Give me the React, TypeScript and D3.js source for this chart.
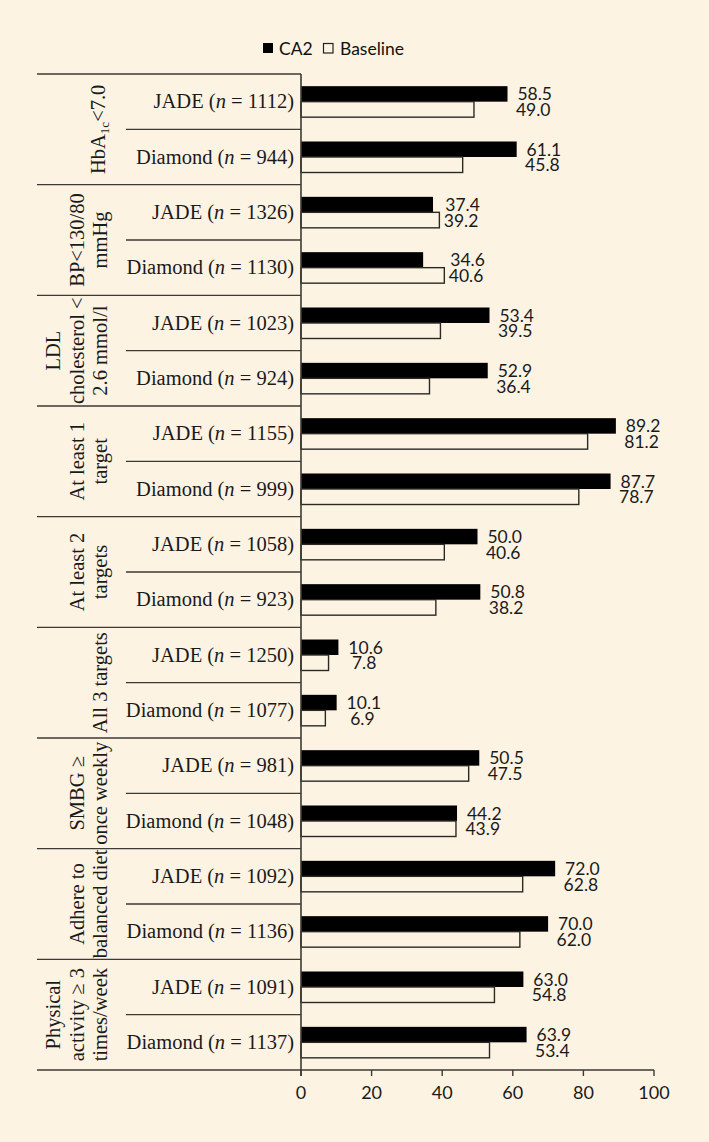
import React from "react";
import * as d3 from "d3";

const groupLabels: string[][] = [
  ["HbA1c<7.0"],
  ["BP<130/80", "mmHg"],
  ["LDL", "cholesterol <", "2.6 mmol/l"],
  ["At least 1", "target"],
  ["At least 2", "targets"],
  ["All 3 targets"],
  ["SMBG ≥", "once weekly"],
  ["Adhere to", "balanced diet"],
  ["Physical", "activity ≥ 3", "times/week"],
];
const cohorts = ["JADE", "Diamond"];
const sampleSizes: number[] = [
  1112, 944, 1326, 1130, 1023, 924, 1155, 999, 1058, 923, 1250, 1077, 981, 1048, 1092, 1136, 1091, 1137,
];
const ca2Values: number[] = [
  58.5, 61.1, 37.4, 34.6, 53.4, 52.9, 89.2, 87.7, 50.0, 50.8, 10.6, 10.1, 50.5, 44.2, 72.0, 70.0, 63.0, 63.9,
];
const baselineValues: number[] = [
  49.0, 45.8, 39.2, 40.6, 39.5, 36.4, 81.2, 78.7, 40.6, 38.2, 7.8, 6.9, 47.5, 43.9, 62.8, 62.0, 54.8, 53.4,
];
const xTicks: number[] = [0, 20, 40, 60, 80, 100];
const seriesNames = ["CA2", "Baseline"];

const W = 709;
const H = 1142;
const BG = "#fdf3e3";
const INK = "#3b3a33";
const SERIF = "'Liberation Serif', 'Times New Roman', serif";
const SANS = "Lato, 'Open Sans', sans-serif";

function estWidth(s: string, fs: number): number {
  let w = 0;
  for (const ch of s) w += ch === "." ? 0.23 : 0.58;
  return w * fs;
}

export default function App() {
  const left = 37;
  const innerLeft = 126;
  const axisX0 = 301;
  const axisX1 = 654;
  const top = 74;
  const bottom = 1070;

  const x = d3.scaleLinear().domain([0, 100]).range([axisX0, axisX1]);
  const rows = d3.range(ca2Values.length);
  const yRow = d3.scaleBand<number>().domain(rows).range([top, bottom]);
  const rowH = yRow.bandwidth();
  const yGroup = d3.scaleBand<number>().domain(d3.range(groupLabels.length)).range([top, bottom]);
  const barH = 15.5;
  const barPad = (rowH - 2 * barH) / 2;

  const valFont = 17.5;
  const catFont = 20.5;
  const groupFont = 20.5;
  const lineGap = 23.5;
  const lastBaseline = 107;

  return (
    <svg width={W} height={H} style={{ position: "absolute", left: 0, top: 0, background: BG }}>
      <rect x={0} y={0} width={W} height={H} fill={BG} />

      {/* legend */}
      <g fontFamily={SANS} fontSize={17.5} fill="#111">
        <rect x={263} y={43} width={10} height={10} fill="#000" />
        <text x={279} y={48} dominantBaseline="central">{seriesNames[0]}</text>
        <rect x={323.5} y={43.5} width={9.5} height={9.5} fill={BG} stroke="#222" strokeWidth={1.2} />
        <text x={340} y={48} dominantBaseline="central">{seriesNames[1]}</text>
      </g>

      {/* group separators */}
      {d3.range(groupLabels.length + 1).map((g) => {
        const yy = g < groupLabels.length ? (yGroup(g) as number) : bottom;
        return <line key={"gs" + g} x1={left} x2={axisX0} y1={yy} y2={yy} stroke={INK} strokeWidth={1.4} />;
      })}
      {/* row separators inside groups */}
      {groupLabels.map((_, g) => {
        const yy = (yGroup(g) as number) + rowH;
        return <line key={"rs" + g} x1={innerLeft} x2={axisX0} y1={yy} y2={yy} stroke={INK} strokeWidth={1.4} />;
      })}

      {/* bars */}
      {rows.map((i) => {
        const y0 = (yRow(i) as number) + barPad;
        return (
          <g key={"b" + i}>
            <rect x={x(0)} y={y0} width={x(ca2Values[i]) - x(0)} height={barH} fill="#000" />
            <rect
              x={x(0)}
              y={y0 + barH}
              width={x(baselineValues[i]) - x(0)}
              height={barH}
              fill={BG}
              stroke="#2a2a25"
              strokeWidth={1.4}
            />
          </g>
        );
      })}

      {/* value labels */}
      {rows.map((i) => {
        const y0 = (yRow(i) as number) + barPad;
        const t1 = ca2Values[i].toFixed(1);
        const t2 = baselineValues[i].toFixed(1);
        const w1 = estWidth(t1, valFont);
        const start = Math.max(x(ca2Values[i]) + 10, x(baselineValues[i]) + 6);
        const cx = start + w1 / 2;
        return (
          <g key={"v" + i} fontFamily={SANS} fontSize={valFont} fill="#1a1a1a" textAnchor="middle">
            <text x={cx} y={y0 + barH / 2} dominantBaseline="central">{t1}</text>
            <text x={cx - 1.5} y={y0 + barH * 1.5} dominantBaseline="central">{t2}</text>
          </g>
        );
      })}

      {/* category labels */}
      {rows.map((i) => {
        const cy = (yRow(i) as number) + rowH / 2;
        return (
          <text key={"c" + i} x={294} y={cy + 6.8} textAnchor="end" fontFamily={SERIF} fontSize={catFont} fill="#1a1a1a">
            {cohorts[i % 2]} (<tspan fontStyle="italic">n</tspan> = {sampleSizes[i]})
          </text>
        );
      })}

      {/* group labels */}
      {groupLabels.map((lines, g) => {
        const cy = (yGroup(g) as number) + yGroup.bandwidth() / 2;
        return (
          <g key={"g" + g} fontFamily={SERIF} fontSize={groupFont} fill="#1a1a1a" textAnchor="middle">
            {lines.map((ln, k) => {
              const bx = lastBaseline - (lines.length - 1 - k) * lineGap;
              if (ln.startsWith("HbA1c")) {
                return (
                  <text key={k} transform={`translate(${bx - 2},${cy}) rotate(-90)`}>
                    HbA<tspan fontSize={13} dy={4}>1c</tspan>
                    <tspan dy={-4}>{"<7.0"}</tspan>
                  </text>
                );
              }
              return (
                <text key={k} transform={`translate(${bx},${cy}) rotate(-90)`}>
                  {ln}
                </text>
              );
            })}
          </g>
        );
      })}

      {/* vertical axis */}
      <line x1={axisX0} x2={axisX0} y1={top} y2={bottom + 6} stroke={INK} strokeWidth={1.6} />
      {/* horizontal axis */}
      <line x1={axisX0} x2={axisX1} y1={bottom} y2={bottom} stroke={INK} strokeWidth={1.4} />
      {xTicks.map((t) => (
        <g key={"t" + t}>
          <line x1={x(t)} x2={x(t)} y1={bottom} y2={bottom + 6} stroke={INK} strokeWidth={1.4} />
          <text x={x(t)} y={bottom + 22} textAnchor="middle" dominantBaseline="central" fontFamily={SANS} fontSize={18} fill="#1a1a1a">
            {t}
          </text>
        </g>
      ))}
    </svg>
  );
}
